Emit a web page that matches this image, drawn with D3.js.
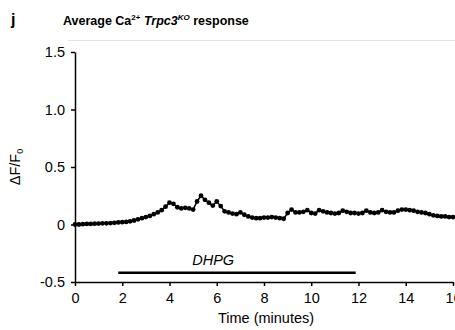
<!doctype html>
<html>
<head>
<title>Average Ca2+ Trpc3KO response</title>
<meta charset="utf-8"/>
<script src="https://cdnjs.cloudflare.com/ajax/libs/d3/7.8.5/d3.min.js"></script>
</head>
<body style="margin:0;background:#fff;">
<style>
  text { font-family: "Liberation Sans", Arial, sans-serif; fill: #000; }
</style>
<svg width="455" height="330"></svg>
<script>
// time in minutes, one sample every 10 s
var times = d3.range(97).map(i => i / 6)
var response = [
  0, 0, 0.003, 0.005, 0.005, 0.007, 0.008, 0.01, 0.01, 0.012,
  0.015, 0.018, 0.02, 0.022, 0.028, 0.035, 0.045, 0.055, 0.065, 0.075,
  0.09, 0.105, 0.125, 0.155, 0.19, 0.18, 0.15, 0.14, 0.145, 0.14,
  0.13, 0.2, 0.25, 0.215, 0.19, 0.165, 0.2, 0.16, 0.115, 0.105,
  0.095, 0.09, 0.105, 0.085, 0.07, 0.06, 0.055, 0.055, 0.06, 0.06,
  0.065, 0.06, 0.055, 0.05, 0.1, 0.13, 0.105, 0.105, 0.11, 0.125,
  0.1, 0.095, 0.125, 0.115, 0.105, 0.1, 0.095, 0.1, 0.12, 0.11,
  0.1, 0.1, 0.095, 0.1, 0.12, 0.105, 0.1, 0.105, 0.125, 0.11,
  0.105, 0.105, 0.12, 0.13, 0.13, 0.125, 0.12, 0.11, 0.105, 0.1,
  0.09, 0.08, 0.075, 0.07, 0.07, 0.065, 0.065
]
var xTicks = [0, 2, 4, 6, 8, 10, 12, 14, 16]
var yTicks = [-0.5, 0, 0.5, 1.0, 1.5]
var yTickLabels = ["-0.5", "0", "0.5", "1.0", "1.5"]
var drugName = "DHPG"
var drugSpan = [1.83, 11.88]   // minutes
var drugLevel = -0.42

var svg = d3.select("svg")

var x = d3.scaleLinear().domain([0, 16]).range([75, 453])
var y = d3.scaleLinear().domain([-0.5, 1.5]).range([282, 52])

// faint frame line at the top of the plot area
svg.append("line")
  .attr("x1", 68).attr("x2", 455)
  .attr("y1", 40.5).attr("y2", 40.5)
  .attr("stroke", "#e3e3e3").attr("stroke-width", 1)

// axes
var xAxis = svg.append("g")
  .attr("transform", "translate(0," + y(-0.5) + ")")
  .call(d3.axisBottom(x).tickValues(xTicks).tickSize(4).tickSizeOuter(0))
var yAxis = svg.append("g")
  .attr("transform", "translate(" + x(0) + ",0)")
  .call(d3.axisLeft(y).tickValues(yTicks).tickSize(4).tickSizeOuter(0)
    .tickFormat((d, i) => yTickLabels[i]))

xAxis.selectAll("path, line").attr("stroke", "#000").attr("stroke-width", 1.5)
yAxis.selectAll("path, line").attr("stroke", "#000").attr("stroke-width", 1.5)
xAxis.selectAll("text").attr("font-size", 14.5).attr("dy", "0.95em")
  .style("font-family", "'Liberation Sans', Arial, sans-serif").attr("fill", "#000")
yAxis.selectAll("text").attr("font-size", 14.5).attr("x", -10)
  .style("font-family", "'Liberation Sans', Arial, sans-serif").attr("fill", "#000")

// axis titles
svg.append("text")
  .attr("x", 266).attr("y", 323)
  .attr("text-anchor", "middle")
  .attr("font-size", 14.5)
  .text("Time (minutes)")

var yl = svg.append("text")
  .attr("transform", "translate(20,167) rotate(-90)")
  .attr("text-anchor", "middle")
  .attr("font-size", 14.5)
yl.append("tspan").text("ΔF/F")
yl.append("tspan").attr("font-size", 9).attr("dy", 3).text("0")

// title
svg.append("text")
  .attr("x", 11).attr("y", 25)
  .attr("font-size", 16).attr("font-weight", "bold")
  .text("j")
var title = svg.append("text")
  .attr("x", 63).attr("y", 25)
  .attr("font-size", 12.5).attr("font-weight", "bold")
title.append("tspan").text("Average Ca")
title.append("tspan").attr("font-size", 8).attr("dy", -5).text("2+")
title.append("tspan").attr("dy", 5).text(" ")
title.append("tspan").attr("font-style", "italic").text("Trpc3")
title.append("tspan").attr("font-style", "italic").attr("font-size", 8).attr("dy", -5).text("KO")
title.append("tspan").attr("dy", 5).text(" response")

// drug application bar
svg.append("line")
  .attr("x1", x(drugSpan[0])).attr("x2", x(drugSpan[1]))
  .attr("y1", y(drugLevel)).attr("y2", y(drugLevel))
  .attr("stroke", "#000").attr("stroke-width", 2.5)
svg.append("text")
  .attr("x", x(5.85)).attr("y", y(drugLevel) - 8)
  .attr("text-anchor", "middle")
  .attr("font-size", 14.5).attr("font-style", "italic")
  .text(drugName)

// trace
var pts = times.map((t, i) => ({t: t, v: response[i]}))
svg.append("path")
  .datum(pts)
  .attr("fill", "none").attr("stroke", "#000").attr("stroke-width", 1.5)
  .attr("d", d3.line().x(d => x(d.t)).y(d => y(d.v)))
svg.selectAll("circle")
  .data(pts)
  .enter()
  .append("circle")
  .attr("cx", d => x(d.t))
  .attr("cy", d => y(d.v))
  .attr("r", 2.4)
  .attr("fill", "#000")
</script>
</body>
</html>
